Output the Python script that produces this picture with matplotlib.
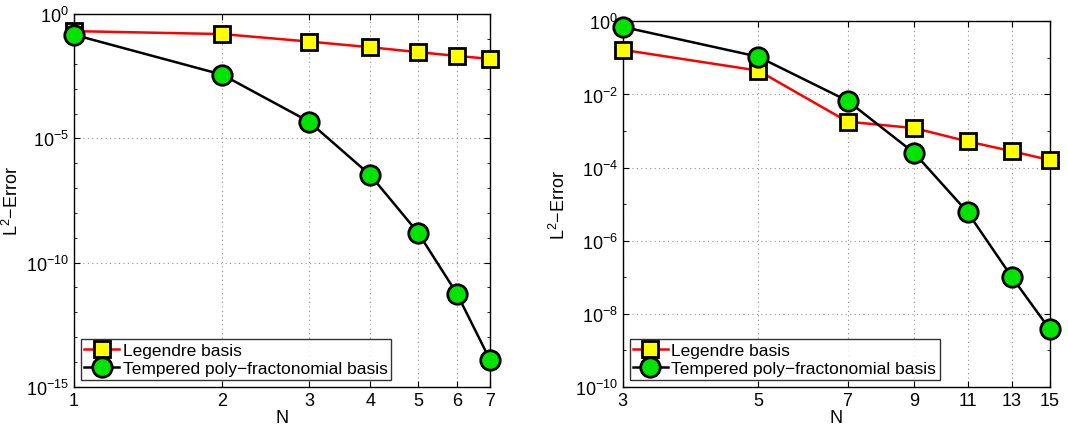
import numpy as np
import matplotlib
matplotlib.use("Agg")
import matplotlib.pyplot as plt
from matplotlib.ticker import FixedLocator, FixedFormatter, LogLocator, NullFormatter, NullLocator

plt.rcParams['font.family'] = ['Liberation Sans', 'DejaVu Sans']
plt.rcParams['mathtext.fontset'] = 'custom'
plt.rcParams['mathtext.rm'] = 'Liberation Sans'

# --- left panel: N = 1..7 ---
N_left = [1, 2, 3, 4, 5, 6, 7]
legendre_left = [0.21, 0.16, 0.08, 0.047, 0.03, 0.021, 0.016]
tempered_left = [0.15, 3.7e-3, 4.8e-5, 3.3e-7, 1.6e-9, 5.5e-12, 1.2e-14]

# --- right panel: N = 3..15 ---
N_right = [3, 5, 7, 9, 11, 13, 15]
legendre_right = [0.167, 0.045, 1.8e-3, 1.2e-3, 5.2e-4, 2.8e-4, 1.6e-4]
tempered_right = [0.71, 0.108, 6.7e-3, 2.5e-4, 6e-6, 1e-7, 3.7e-9]

labels = ["Legendre basis", "Tempered poly\u2212fractonomial basis"]


def style_axes(ax, xticks, yticks, ylim, ylab_x):
    ax.set_xscale('log')
    ax.set_yscale('log')
    ax.set_xlim(xticks[0], xticks[-1])
    ax.set_ylim(*ylim)
    ax.xaxis.set_major_locator(FixedLocator(xticks))
    ax.xaxis.set_major_formatter(FixedFormatter([str(t) for t in xticks]))
    ax.xaxis.set_minor_locator(NullLocator())
    ax.yaxis.set_major_locator(FixedLocator(yticks))
    ax.yaxis.set_minor_locator(LogLocator(base=10, subs=[1.0], numticks=30))
    ax.yaxis.set_minor_formatter(NullFormatter())
    ax.grid(True, which='major', linestyle=(0, (1, 3)), color='#909090', linewidth=0.8)
    ax.tick_params(which='both', direction='in', top=True, right=True,
                   labelsize=13, length=4)
    ax.tick_params(which='minor', length=2)
    ax.set_xlabel("N", fontsize=13, labelpad=0)
    ax.set_ylabel("L$^2$\u2212Error", fontsize=13)
    ax.yaxis.set_label_coords(ylab_x, 0.5)
    for sp in ax.spines.values():
        sp.set_linewidth(1.0)


def draw(ax, x, leg, tmp):
    ax.plot(x, leg, '-s', color='red', lw=1.8, ms=12, mfc='yellow',
            mec='black', mew=2, label=labels[0], clip_on=False, zorder=3)
    ax.plot(x, tmp, '-o', color='black', lw=1.8, ms=14, mfc='#00e400',
            mec='black', mew=2, label=labels[1], clip_on=False, zorder=4)
    leg_box = ax.legend(loc='lower left', fontsize=12.5, frameon=True, fancybox=False,
                        edgecolor='black', borderpad=0.2, labelspacing=0.2,
                        handlelength=2.0, handletextpad=0.2, borderaxespad=0.4)
    leg_box.get_frame().set_linewidth(1.0)


fig = plt.figure(figsize=(10.68, 4.31), dpi=100)

ax1 = fig.add_axes([0.0693, 0.1005, 0.3895, 0.864])
draw(ax1, N_left, legendre_left, tempered_left)
style_axes(ax1, N_left, [1e-15, 1e-10, 1e-5, 1e0], (1e-15, 1e0), -0.125)

ax2 = fig.add_axes([0.583, 0.1005, 0.400, 0.8475])
draw(ax2, N_right, legendre_right, tempered_right)
style_axes(ax2, N_right, [1e-10, 1e-8, 1e-6, 1e-4, 1e-2, 1e0], (1e-10, 1e0), -0.125)

fig.savefig("out.png", dpi=100)
